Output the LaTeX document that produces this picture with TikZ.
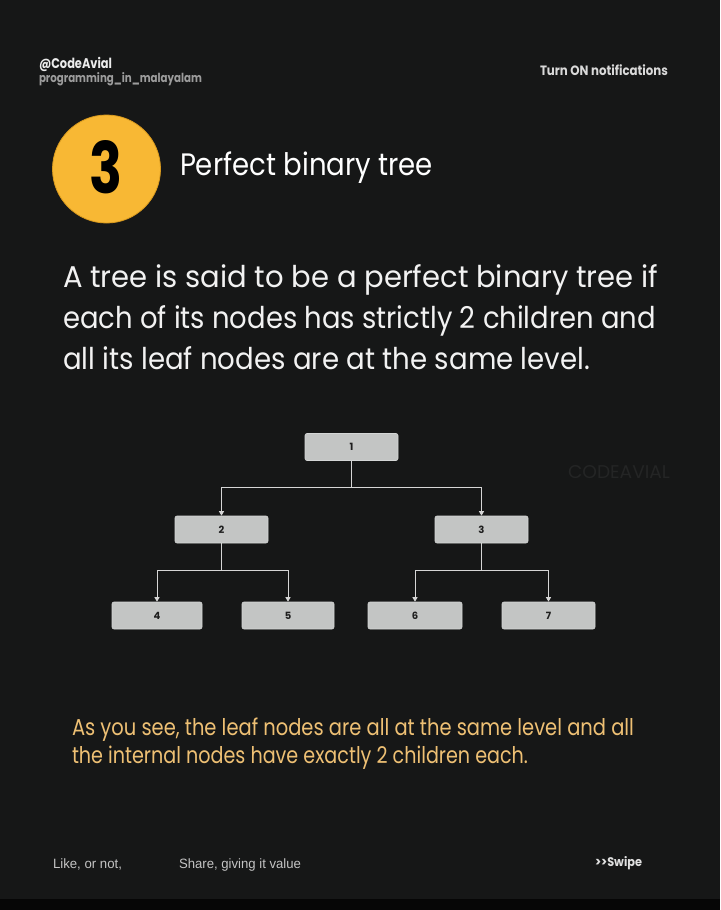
\documentclass[tikz,border=0pt]{standalone}
\usepackage{fontspec}
\usepackage{graphicx}
\setmainfont{Poppins}
\newfontfamily\footfont{Liberation Sans}
\usetikzlibrary{arrows.meta}
\definecolor{bgc}{HTML}{161717}
\definecolor{stripc}{HTML}{060606}
\definecolor{circc}{HTML}{F8B834}
\definecolor{circedge}{HTML}{D99A1E}
\definecolor{yeltext}{HTML}{EEC074}
\definecolor{boxgray}{HTML}{C3C5C4}
\definecolor{boxedge}{HTML}{D4D6D5}
\definecolor{linec}{HTML}{D6D6D6}
\definecolor{subgray}{HTML}{9C9C9C}
\definecolor{footgray}{HTML}{C4C4C4}
\definecolor{wmark}{HTML}{242525}
\newcommand\fitw[2]{\resizebox{#1}{\height}{#2}}
\tikzset{
  txt/.style={inner sep=0pt, outer sep=0pt, anchor=base west},
  treebox/.style={rectangle, rounded corners=2pt, fill=boxgray, draw=boxedge, line width=0.6pt,
    minimum width=93pt, minimum height=27pt, inner sep=0pt, text=black!88,
    font=\bfseries\fontsize{10}{10}\selectfont},
  conn/.style={draw=linec, line width=1pt, -{Triangle[width=5pt,length=4.5pt]}}
}
\begin{document}
\begin{tikzpicture}[x=1pt,y=-1pt]
\useasboundingbox (0,0) rectangle (720,910);
\fill[bgc] (0,0) rectangle (720,910);
\fill[stripc] (0,899) rectangle (720,910);

% header
\node[txt, text=white!92!black] (handle) at (39,68) {\fitw{73pt}{\bfseries\fontsize{14}{14}\selectfont @CodeAvial}};
\node[txt, text=subgray] (sub) at (39,82) {\fitw{163pt}{\bfseries\fontsize{12.5}{12.5}\selectfont programming\_in\_malayalam}};
\node[txt, text=white!85!black] (notif) at (540,75) {\fitw{128pt}{\bfseries\fontsize{13.5}{13.5}\selectfont Turn ON notifications}};

% number badge
\node[circle, fill=circc, draw=circedge, line width=0.8pt, minimum size=108pt, inner sep=0pt] (badge) at (106.5,169) {};
\node[inner sep=0pt, text=black] (num) at (106,167.5) {\resizebox{33pt}{53pt}{\bfseries 3}};
\node[txt, text=white] (title) at (180,175) {\fitw{253pt}{\fontsize{31}{31}\selectfont Perfect binary tree}};

% body
\node[txt, text=white!95!black] (b1) at (63,287) {\fitw{595pt}{\fontsize{30}{30}\selectfont A tree is said to be a perfect binary tree if}};
\node[txt, text=white!95!black] (b2) at (63,328) {\fitw{593pt}{\fontsize{30}{30}\selectfont each of its nodes has strictly 2 children and}};
\node[txt, text=white!95!black] (b3) at (63,369) {\fitw{527pt}{\fontsize{30}{30}\selectfont all its leaf nodes are at the same level.}};

% watermark
\node[txt, text=wmark] (wm) at (568,478) {\resizebox{102pt}{13pt}{\fontsize{14}{14}\selectfont CODEAVIAL}};

% tree
\node[treebox] (n1) at (351.5,447) {1};
\node[treebox] (n2) at (221.5,529.5) {2};
\node[treebox] (n3) at (481.5,529.5) {3};
\node[treebox, minimum width=90pt] (n4) at (157,615.5) {4};
\node[treebox, minimum width=92pt] (n5) at (288,615.5) {5};
\node[treebox, minimum width=94pt] (n6) at (415,615.5) {6};
\node[treebox] (n7) at (548.5,615.5) {7};

\draw[conn] (n1.south) -- ++(0,27) -| (n2.north);
\draw[conn] (n1.south) -- ++(0,27) -| (n3.north);
\draw[conn] (n2.south) -- ++(0,27.5) -| (n4.north);
\draw[conn] (n2.south) -- ++(0,27.5) -| (n5.north);
\draw[conn] (n3.south) -- ++(0,27.5) -| (n6.north);
\draw[conn] (n3.south) -- ++(0,27.5) -| (n7.north);

% yellow note
\node[txt, text=yeltext] (y1) at (72,735) {\fitw{562pt}{\fontsize{23}{23}\selectfont As you see, the leaf nodes are all at the same level and all}};
\node[txt, text=yeltext] (y2) at (72,763) {\fitw{456pt}{\fontsize{23}{23}\selectfont the internal nodes have exactly 2 children each.}};

% footer
\node[txt, text=footgray] (f1) at (53,868) {\fitw{69pt}{\footfont\fontsize{13.5}{13.5}\selectfont Like, or not,}};
\node[txt, text=footgray] (f2) at (179,868) {\fitw{122pt}{\footfont\fontsize{13.5}{13.5}\selectfont Share, giving it value}};
\node[txt, text=white!88!black] (f3) at (595,866) {\fitw{47pt}{\bfseries\fontsize{12.5}{12.5}\selectfont {>}{>}Swipe}};
\end{tikzpicture}
\end{document}
